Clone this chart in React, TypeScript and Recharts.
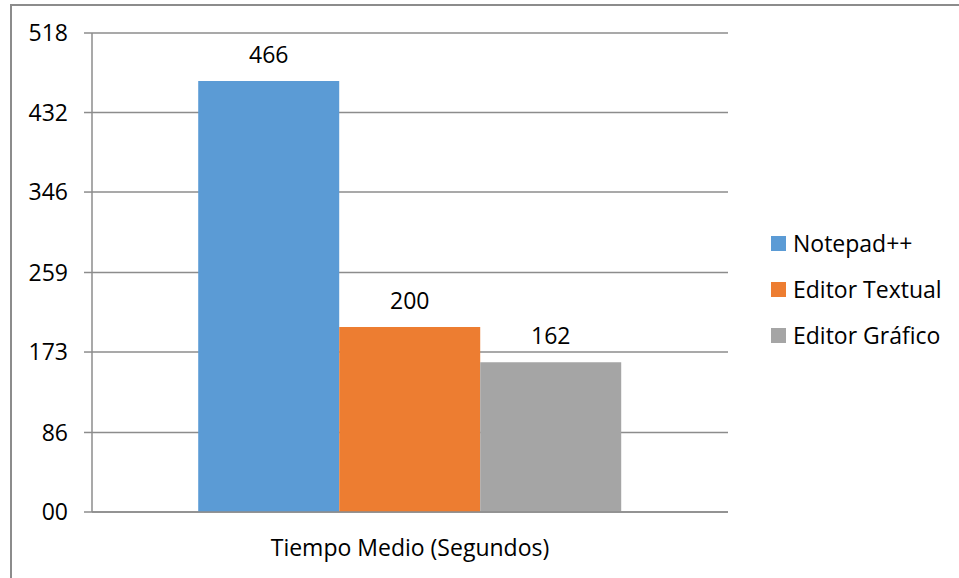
import React from "react"
import {
    BarChart, Bar, XAxis, YAxis, CartesianGrid, Legend, LabelList
} from "recharts"

// one category, three editors
const categories = ["Tiempo Medio (Segundos)"]
const notepadValues = [466]
const textualValues = [200]
const graficoValues = [162]
const yTicks = [0, 86, 173, 259, 346, 432, 518]

const series = [
    { key: "notepad", name: "Notepad++", color: "#5B9BD5" },
    { key: "textual", name: "Editor Textual", color: "#ED7D31" },
    { key: "grafico", name: "Editor Gráfico", color: "#A5A5A5" },
]

const data = categories.map((c, i) => ({
    name: c,
    notepad: notepadValues[i],
    textual: textualValues[i],
    grafico: graficoValues[i],
}))

const FONT = "'Open Sans', 'Noto Sans', sans-serif"
const GRID = "#8c8c8c"
const FS = 23

function LegendBox() {
    return (
        <ul style={{ listStyle: "none", margin: 0, padding: "0 0 0 43px", fontFamily: FONT, fontSize: FS, color: "#000" }}>
            {series.map((s, i) => (
                <li key={s.key} style={{ display: "flex", alignItems: "center", whiteSpace: "nowrap", height: 26, marginTop: i === 0 ? 0 : 20 }}>
                    <span style={{ display: "inline-block", flex: "none", width: 15, height: 15, background: s.color, marginRight: 7 }} />
                    <span>{s.name}</span>
                </li>
            ))}
        </ul>
    )
}

const noTick = () => <g />

export default function App() {
    return (
        <div style={{ position: "absolute", left: 0, top: 0, width: 959, height: 578, overflow: "hidden", background: "#fff" }}>
            <BarChart
                width={959}
                height={578}
                data={data}
                margin={{ top: 33, right: 20, bottom: 0, left: 0 }}
                barCategoryGap="16.7%"
                barGap={0}
                style={{ position: "absolute", left: 0, top: 0 }}
            >
                <CartesianGrid horizontal vertical={false} stroke={GRID} strokeWidth={1.5} />
                <XAxis
                    xAxisId="edge"
                    type="number"
                    domain={[0, 1]}
                    ticks={[0, 1]}
                    tick={noTick}
                    tickLine={{ stroke: GRID, strokeWidth: 1.5 }}
                    tickSize={8}
                    axisLine={false}
                    height={0}
                />
                <XAxis
                    dataKey="name"
                    height={66}
                    tickLine={false}
                    tickSize={6}
                    tickMargin={22}
                    axisLine={{ stroke: GRID, strokeWidth: 1.5 }}
                    tick={{ fill: "#000", fontSize: FS, fontFamily: FONT }}
                />
                <YAxis
                    width={92}
                    domain={[0, 518]}
                    ticks={yTicks}
                    interval={0}
                    tickSize={8}
                    tickMargin={16}
                    tickFormatter={(v: number) => (v === 0 ? "00" : String(v))}
                    axisLine={{ stroke: GRID, strokeWidth: 1.5 }}
                    tickLine={{ stroke: GRID, strokeWidth: 1.5 }}
                    tick={{ fill: "#000", fontSize: FS, fontFamily: FONT }}
                />
                <Legend
                    layout="vertical"
                    align="right"
                    verticalAlign="middle"
                    wrapperStyle={{ width: 211 }}
                    content={() => <LegendBox />}
                />
                {series.map((s) => (
                    <Bar key={s.key} dataKey={s.key} name={s.name} fill={s.color} isAnimationActive={false}>
                        <LabelList dataKey={s.key} position="top" offset={18} fill="#000" fontSize={FS} fontFamily={FONT} />
                    </Bar>
                ))}
            </BarChart>
            <div style={{ position: "absolute", left: 10, top: 4, width: 960, height: 2, background: GRID }} />
            <div style={{ position: "absolute", left: 10, top: 4, width: 2, height: 580, background: GRID }} />
        </div>
    )
}
